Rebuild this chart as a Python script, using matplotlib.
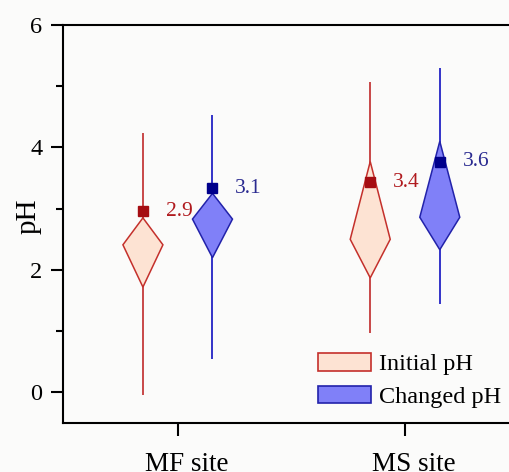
import matplotlib.pyplot as plt
import matplotlib.transforms as mtransforms
from matplotlib.patches import Patch

# datos
sites = ['MF site', 'MS site']
series = ['Initial pH', 'Changed pH']

whisker_low = [[-0.05, 0.97], [0.55, 1.44]]
whisker_high = [[4.24, 5.07], [4.53, 5.30]]
diamond_bottom = [[1.72, 1.87], [2.20, 2.33]]
diamond_mid = [[2.41, 2.50], [2.83, 2.86]]
diamond_top = [[2.85, 3.77], [3.25, 4.10]]
mean_ph = [[2.96, 3.43], [3.33, 3.77]]
mean_labels = [['2.9', '3.4'], ['3.1', '3.6']]

plt.rcParams['font.family'] = ['Liberation Serif', 'DejaVu Serif']

fills = ['#FDE3D3', '#8080F8']
edges = ['#C4302B', '#2222AA']
whisk = ['#C84848', '#3333C8']
marks = ['#A50D12', '#00008B']
texts = ['#B01A1E', '#2A2A90']

fig = plt.figure(figsize=(5.09, 4.72), dpi=100)
fig.patch.set_facecolor('#fbfbfa')
ax = fig.add_axes([63 / 509, 1 - 423 / 472, 1 - 63 / 509, (423 - 25) / 472])
ax.set_facecolor('#fbfbfa')

offsets = [-0.153, 0.153]
half_w = 0.088

for s in range(2):
    for g in range(2):
        x = g + 1 + offsets[s]
        ax.vlines(x, whisker_low[s][g], whisker_high[s][g], color=whisk[s], lw=1.4, zorder=1)
        xs = [x, x + half_w, x, x - half_w]
        ys = [diamond_top[s][g], diamond_mid[s][g], diamond_bottom[s][g], diamond_mid[s][g]]
        ax.fill(xs, ys, facecolor=fills[s], edgecolor=edges[s], lw=1.1, zorder=2)
        ax.plot(x, mean_ph[s][g], 's', color=marks[s], ms=7.5, zorder=3)
        ax.text(x + 0.1, mean_ph[s][g], mean_labels[s][g], color=texts[s],
                fontsize=15.5, va='center', ha='left')

ax.set_xlim(0.4954, 2.4575)
ax.set_ylim(-0.5, 6)
ax.set_xticks([1, 2])
ax.set_xticklabels(sites, fontsize=19.5)
ax.set_yticks([0, 2, 4, 6])
ax.set_yticks([1, 3, 5], minor=True)
ax.tick_params(axis='y', labelsize=17.5)
ax.tick_params(which='major', length=9, width=1.5, direction='out', pad=6)
ax.tick_params(which='minor', length=5, width=1.5, direction='out')
ax.tick_params(axis='x', pad=12)

# las etiquetas del eje x estan algo desplazadas a la derecha en el original
shift = mtransforms.ScaledTranslation(0.09, 0, fig.dpi_scale_trans)
for lbl in ax.get_xticklabels():
    lbl.set_transform(lbl.get_transform() + shift)

ax.set_ylabel('pH', fontsize=21)
ax.yaxis.set_label_coords(-0.049, 0.52)

for sp in ['left', 'top', 'bottom']:
    ax.spines[sp].set_linewidth(1.5)
ax.spines['right'].set_visible(False)

# leyenda
handles = [Patch(facecolor=fills[i], edgecolor=edges[i], lw=1.2, label=series[i]) for i in range(2)]
ax.legend(handles=handles, loc='upper left', bbox_to_anchor=(318 / 509, 1 - 353 / 472),
          bbox_transform=fig.transFigure, frameon=False, fontsize=17.5, borderpad=0,
          borderaxespad=0, handlelength=2.2, handleheight=0.75, handletextpad=0.3,
          labelspacing=0.42)

fig.savefig('out.png', dpi=100, facecolor=fig.get_facecolor())
